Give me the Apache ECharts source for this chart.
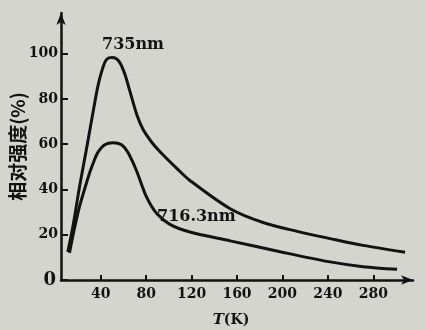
<!DOCTYPE html>
<html>
<head>
<meta charset="utf-8">
<script src="https://cdn.jsdelivr.net/npm/echarts@6/dist/echarts.min.js"></script>
<style>
html,body{margin:0;padding:0;background:#d5d5d0;}
#c{width:426px;height:330px;}
</style>
</head>
<body>
<div id="c"></div>
<script>
// Data (T in K, relative intensity in %)
const temps735  = [11, 15.5, 21.4, 27.4, 33.2, 37.6, 41.5, 45, 49.4, 53.8, 57.4, 61.2, 64.5, 68.5, 72.5, 77.3, 84.7, 92, 107, 118.5, 154, 183, 213, 242, 271, 308];
const values735 = [12.4, 23.7, 41.4, 57.8, 74.1, 85.9, 93.3, 97.4, 98.3, 97.8, 95.6, 91, 85.5, 78.5, 72, 66.5, 61, 56.8, 49.3, 44, 31.5, 25.4, 21.5, 18.3, 15.3, 12.3];
const temps716  = [12.5, 16.5, 21.4, 26, 30.3, 34, 37.6, 43.5, 50.8, 58.3, 64.1, 71.5, 80.3, 89.1, 100.9, 118.5, 154, 198, 242, 271, 301];
const values716 = [12, 22, 32.6, 40.5, 47.5, 52.5, 56.5, 59.8, 60.7, 59.8, 56.2, 48.3, 36.7, 29.5, 24.6, 21.2, 17.3, 12.5, 8, 5.9, 4.7];
const xTicks = [40, 80, 120, 160, 200, 240, 280];
const yTicks = [0, 20, 40, 60, 80, 100];
const seriesNames = ['735nm', '716.3nm'];

const pairs = (xs, ys) => xs.map((x, i) => [x, ys[i]]);
const ink = '#121212';
const serif = '"DejaVu Serif", "Liberation Serif", serif';

const chart = echarts.init(document.getElementById('c'), null, {renderer: 'canvas'});
chart.setOption({
  backgroundColor: '#d5d5d0',
  animation: false,
  grid: {left: 61, right: 13, top: 13, bottom: 50, containLabel: false, outerBoundsMode: 'none'},
  xAxis: {
    type: 'value', min: 5, max: 315,
    name: '{i|T}(K)', nameLocation: 'middle', nameGap: 33, nameMoveOverlap: false,
    nameTextStyle: {color: ink, fontFamily: serif, fontWeight: 'bold', fontSize: 14, padding: [0, 12, 0, 0],
      rich: {i: {fontStyle: 'italic', fontFamily: serif, fontWeight: 'bold', fontSize: 15, color: ink}}},
    axisLine: {lineStyle: {color: ink, width: 2.5}, symbol: ['none', 'arrow'], symbolSize: [7, 12]},
    axisTick: {inside: true, length: 5, lineStyle: {color: ink, width: 2}, customValues: xTicks},
    axisLabel: {color: ink, fontFamily: serif, fontWeight: 'bold', fontSize: 14, margin: 7, customValues: xTicks},
    splitLine: {show: false}
  },
  yAxis: {
    type: 'value', min: 0, max: 118,
    name: '相对强度(%)', nameLocation: 'middle', nameGap: 34, nameRotate: 90, nameMoveOverlap: false,
    nameTextStyle: {color: ink, fontFamily: '"Noto Sans CJK SC", sans-serif', fontWeight: 'bold', fontSize: 19},
    axisLine: {lineStyle: {color: ink, width: 2.5}, symbol: ['none', 'arrow'], symbolSize: [7, 12]},
    axisTick: {inside: true, length: 7, lineStyle: {color: ink, width: 2}, customValues: yTicks},
    axisLabel: {color: ink, fontFamily: serif, fontWeight: 'bold', fontSize: 14, margin: 3, customValues: yTicks,
      formatter: v => v === 0 ? '{z|0}' : String(v),
      rich: {z: {fontFamily: serif, fontWeight: 'bold', fontSize: 18, color: ink, padding: [0, 2, 0, 0]}}},
    splitLine: {show: false}
  },
  series: [
    {name: seriesNames[0], type: 'line', smooth: 0.3, symbol: 'none',
     lineStyle: {color: ink, width: 3}, data: pairs(temps735, values735)},
    {name: seriesNames[1], type: 'line', smooth: 0.3, symbol: 'none',
     lineStyle: {color: ink, width: 3}, data: pairs(temps716, values716)}
  ],
  graphic: [
    {type: 'text', left: 102, top: 37, style: {text: seriesNames[0], fill: ink, font: 'bold 16px ' + serif}},
    {type: 'text', left: 157, top: 209, style: {text: seriesNames[1], fill: ink, font: 'bold 16px ' + serif}}
  ]
});
</script>
</body>
</html>
